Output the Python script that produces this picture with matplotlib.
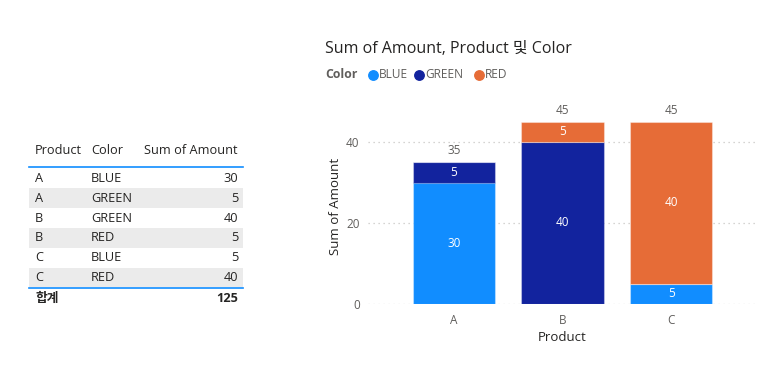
import numpy as np
import matplotlib.pyplot as plt

plt.rcParams['font.family'] = ['Open Sans', 'Noto Sans CJK KR', 'DejaVu Sans']

# table data
table_product = ["A", "A", "B", "B", "C", "C"]
table_color = ["BLUE", "GREEN", "GREEN", "RED", "BLUE", "RED"]
table_amount = [30, 5, 40, 5, 5, 40]
total_label = "합계"

# chart data
products = ["A", "B", "C"]
series_names = ["BLUE", "GREEN", "RED"]
blue_vals = [30, 0, 5]
green_vals = [5, 40, 0]
red_vals = [0, 5, 40]

colors = {"BLUE": "#118DFF", "GREEN": "#12239E", "RED": "#E66C37"}
GRAY = "#605E5C"
TXT = "#252423"

W, H = 757, 366
fig = plt.figure(figsize=(W / 100, H / 100), dpi=100)

def fx(px):
    return px / W

def fy(py):
    return 1 - py / H

# ---- table (drawn in figure pixel coords) ----
fs_tab = 9.2
fig.text(fx(35), fy(151), "Product", fontsize=fs_tab, color=TXT, va='center')
fig.text(fx(91), fy(151), "Color", fontsize=fs_tab, color=TXT, va='center')
fig.text(fx(238), fy(151), "Sum of Amount", fontsize=fs_tab, color=TXT, va='center', ha='right')
fig.add_artist(plt.Line2D([fx(29), fx(243)], [fy(167), fy(167)], color="#118DFF", lw=1.2))

row_h = 19.8
for i in range(len(table_product)):
    yc = 178.5 + i * row_h
    if i % 2 == 1:
        fig.add_artist(plt.Rectangle((fx(29), fy(yc + row_h / 2)), fx(243) - fx(29),
                                     row_h / H, color="#EBEBEB", lw=0, zorder=0))
    fig.text(fx(35), fy(yc), table_product[i], fontsize=fs_tab, color=TXT, va='center')
    fig.text(fx(91), fy(yc), table_color[i], fontsize=fs_tab, color=TXT, va='center')
    fig.text(fx(238), fy(yc), str(table_amount[i]), fontsize=fs_tab, color=TXT, va='center', ha='right')

fig.add_artist(plt.Line2D([fx(29), fx(243)], [fy(287.5), fy(287.5)], color="#118DFF", lw=1.2))
fig.text(fx(35), fy(298), total_label, fontsize=fs_tab, color=TXT, va='center', fontweight='bold')
fig.text(fx(238), fy(298), str(sum(table_amount)), fontsize=fs_tab, color=TXT, va='center',
         ha='right', fontweight='bold')

# ---- title and legend ----
fig.text(fx(325), fy(49), "Sum of Amount, Product 및 Color", fontsize=11.5, color=TXT, va='center')
fig.text(fx(325), fy(75), "Color", fontsize=8.8, color=GRAY, va='center', fontweight='bold')
leg_x = [373, 419, 479]
for name, lx in zip(series_names, leg_x):
    fig.add_artist(plt.Line2D([fx(lx)], [fy(75)], marker='o', markersize=6.8,
                              color=colors[name], lw=0))
    fig.text(fx(lx + 6), fy(75), name, fontsize=8.6, color=GRAY, va='center')

# ---- stacked bar chart ----
ax = fig.add_axes([fx(368), fy(304), fx(757) - fx(368), (304 - 109.6) / H])
x = np.arange(len(products))
bottom = np.zeros(len(products))
for name, vals in zip(series_names, [blue_vals, green_vals, red_vals]):
    vals = np.array(vals, dtype=float)
    bars = ax.bar(x, vals, 0.76, bottom=bottom, color=colors[name],
                  edgecolor=(1, 1, 1, 0.35), linewidth=0.8, zorder=3)
    for xi, v, b in zip(x, vals, bottom):
        if v > 0:
            ax.text(xi, b + v / 2, f"{v:g}", ha='center', va='center', color='white',
                    fontsize=8.5, zorder=4)
    bottom += vals

for xi, tot in zip(x, bottom):
    ax.text(xi, tot + 1.2, f"{tot:g}", ha='center', va='bottom', color=GRAY, fontsize=8.5, clip_on=False)

ax.set_xlim(-0.79, 2.79)
ax.set_ylim(0, 48)
ax.set_yticks([0, 20, 40])
ax.set_xticks(x)
ax.set_xticklabels(products)
ax.tick_params(length=0, labelsize=8.5, labelcolor=GRAY)
ax.tick_params(axis='y', pad=6)
ax.tick_params(axis='x', pad=7)
ax.grid(axis='y', linestyle=(0, (1, 3)), color="#C8C6C4", lw=0.9, zorder=0)
for s in ax.spines.values():
    s.set_visible(False)
ax.set_ylabel("Sum of Amount", fontsize=9.5, color=TXT, labelpad=3)
ax.set_xlabel("Product", fontsize=9.5, color=TXT, labelpad=3)

fig.savefig("out.png", dpi=100)
